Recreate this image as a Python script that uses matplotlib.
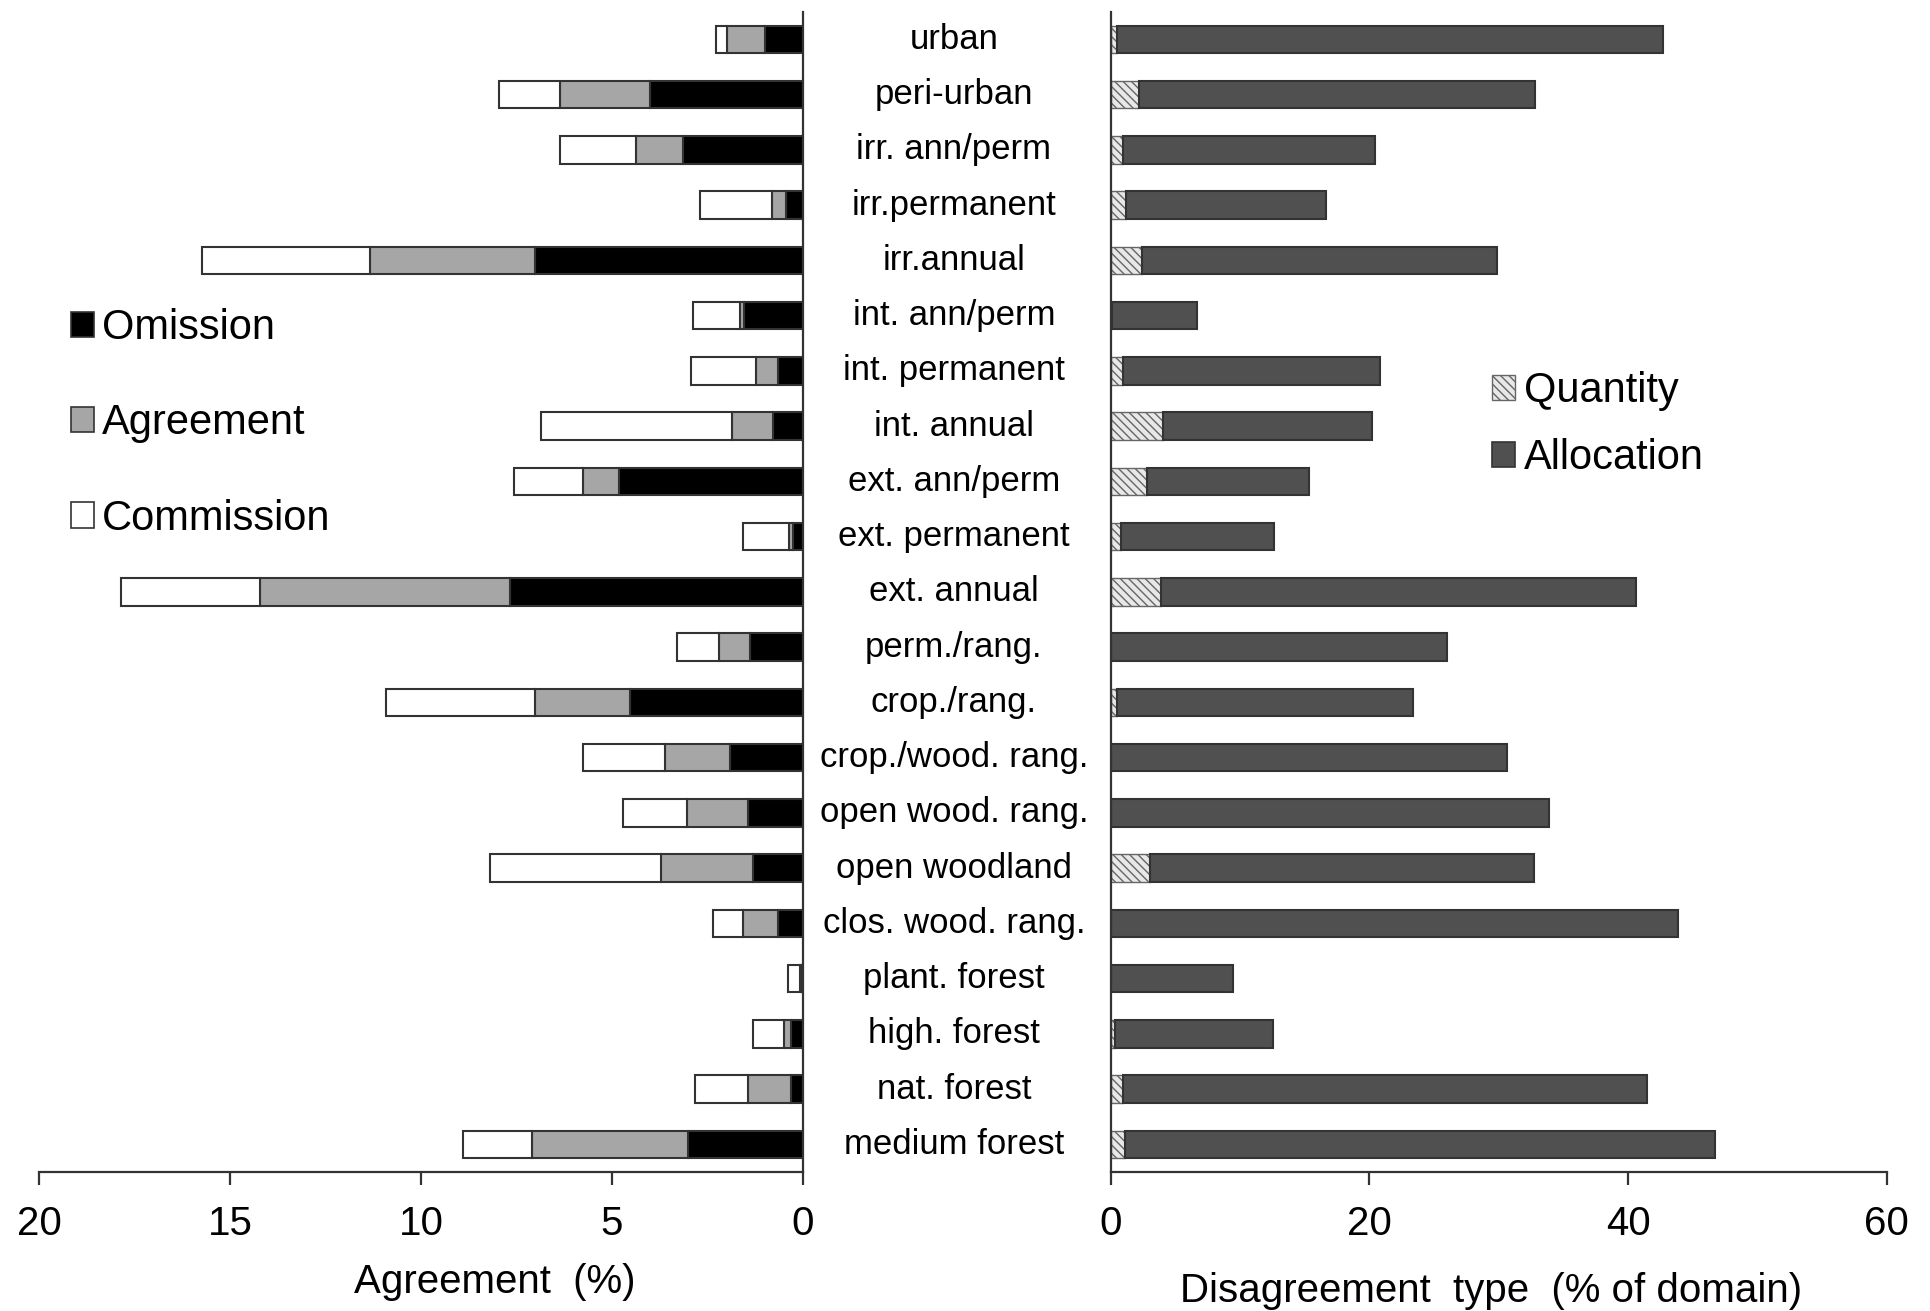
import matplotlib
matplotlib.use('Agg')
import matplotlib.pyplot as plt
import matplotlib.transforms as mtransforms
from matplotlib.patches import Patch
import numpy as np

plt.rcParams['font.family'] = ['Liberation Sans', 'DejaVu Sans']
plt.rcParams['hatch.linewidth'] = 1.0

# land use classes, top to bottom
classes = ['urban', 'peri-urban', 'irr. ann/perm', 'irr.permanent', 'irr.annual',
           'int. ann/perm', 'int. permanent', 'int. annual', 'ext. ann/perm',
           'ext. permanent', 'ext. annual', 'perm./rang.', 'crop./rang.',
           'crop./wood. rang.', 'open wood. rang.', 'open woodland',
           'clos. wood. rang.', 'plant. forest', 'high. forest', 'nat. forest',
           'medium forest']

# left panel (% agreement components)
omission = [1.0, 4.0, 3.14, 0.44, 7.03, 1.54, 0.64, 0.79, 4.82, 0.26, 7.67,
            1.39, 4.53, 1.9, 1.43, 1.3, 0.64, 0.05, 0.3, 0.3, 3.02]
agreement = [1.0, 2.35, 1.23, 0.38, 4.3, 0.1, 0.59, 1.08, 0.94, 0.11, 6.56,
             0.81, 2.49, 1.72, 1.6, 2.43, 0.93, 0.02, 0.2, 1.13, 4.07]
commission = [0.28, 1.6, 2.0, 1.87, 4.4, 1.25, 1.71, 4.98, 1.8, 1.21, 3.64,
              1.1, 3.9, 2.13, 1.68, 4.46, 0.79, 0.33, 0.8, 1.4, 1.81]

# right panel (% of domain)
quantity = [0.5, 2.2, 0.9, 1.16, 2.4, 0.1, 0.9, 4.0, 2.8, 0.75, 3.86,
            0.0, 0.5, 0.0, 0.0, 3.0, 0.0, 0.0, 0.3, 0.95, 1.1]
total_dis = [42.7, 32.8, 20.4, 16.6, 29.9, 6.63, 20.85, 20.2, 15.3, 12.65, 40.6,
             26.0, 23.4, 30.6, 33.9, 32.7, 43.9, 9.45, 12.5, 41.5, 46.7]

om = np.array(omission)
ag = np.array(agreement)
cm = np.array(commission)
qt = np.array(quantity)
al = np.array(total_dis) - qt
y = np.arange(len(classes))

fig = plt.figure(figsize=(19.31, 13.11), dpi=100)
ax1 = fig.add_axes([0.0204, 0.106, 0.3954, 0.885])
ax2 = fig.add_axes([0.5753, 0.106, 0.4017, 0.885])

edge = '#333333'
h = 0.5
ax1.barh(y, om, height=h, color='black', edgecolor=edge, linewidth=1.5)
ax1.barh(y, ag, left=om, height=h, color='#a6a6a6', edgecolor=edge, linewidth=1.5)
ax1.barh(y, cm, left=om + ag, height=h, color='white', edgecolor=edge, linewidth=1.5)

ax2.barh(y, qt, height=h, color='#e8e8e8', edgecolor='#666666', hatch='\\\\\\\\', linewidth=1.0)
ax2.barh(y, al, left=qt, height=h, color='#505050', edgecolor='#333333', linewidth=1.5)

ax1.set_xlim(20, 0)
ax2.set_xlim(0, 60)
for ax in (ax1, ax2):
    ax.set_ylim(len(classes) - 0.5, -0.5)
    ax.set_yticks([])
    ax.spines['top'].set_visible(False)
    for s in ax.spines.values():
        s.set_linewidth(1.6)
        s.set_color('#333333')
    ax.tick_params(axis='x', direction='out', length=9, width=1.6, pad=15,
                   labelsize=29, color='#333333')
ax1.spines['left'].set_visible(False)
ax2.spines['right'].set_visible(False)
ax1.set_xticks([20, 15, 10, 5, 0])
ax2.set_xticks([0, 20, 40, 60])

# class names in the gap between the panels
trans = mtransforms.blended_transform_factory(fig.transFigure, ax1.transData)
for yi, name in zip(y, classes):
    ax1.text(0.494, yi, name, transform=trans, ha='center', va='center',
             fontsize=25, clip_on=False)

fig.text(0.256, 0.022, 'Agreement  (%)', ha='center', va='center', fontsize=29)
fig.text(0.772, 0.015, 'Disagreement  type  (% of domain)', ha='center',
         va='center', fontsize=29)

h_left = [Patch(facecolor='black', edgecolor=edge, linewidth=1.2),
          Patch(facecolor='#a6a6a6', edgecolor=edge, linewidth=1.2),
          Patch(facecolor='white', edgecolor=edge, linewidth=1.2)]
fig.legend(h_left, ['Omission', 'Agreement', 'Commission'], loc='upper left',
           bbox_to_anchor=(0.026, 0.781), frameon=False, fontsize=30,
           handlelength=0.55, handleheight=0.55, handletextpad=0.2,
           labelspacing=1.33, borderpad=0)

h_right = [Patch(facecolor='#e8e8e8', edgecolor='#666666', hatch='\\\\\\\\', linewidth=1.0),
           Patch(facecolor='#505050', edgecolor='#333333', linewidth=1.2)]
fig.legend(h_right, ['Quantity', 'Allocation'], loc='upper left',
           bbox_to_anchor=(0.762, 0.733), frameon=False, fontsize=30,
           handlelength=0.55, handleheight=0.55, handletextpad=0.2,
           labelspacing=0.66, borderpad=0)

plt.savefig('out.png', dpi=100)
